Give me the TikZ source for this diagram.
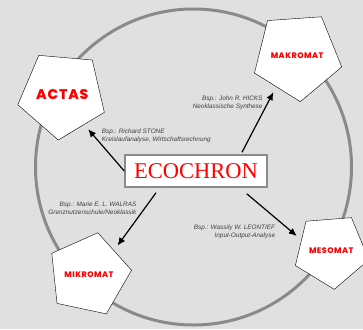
\documentclass[tikz,border=0pt]{standalone}
\usepackage{fontspec}
\setmainfont{Liberation Serif}
\newfontfamily\notefont{Liberation Sans}
\newfontfamily\matfont[LetterSpace=6]{Poppins ExtraBold}
\usepackage{tikz}
\usetikzlibrary{shapes,arrows,arrows.meta}
\definecolor{bggray}{RGB}{224,224,224}
\definecolor{ringgray}{RGB}{138,138,138}
\definecolor{notegray}{RGB}{64,64,64}
\tikzstyle{model} = [regular polygon, regular polygon sides=5, draw, thin, fill=white,
    minimum size=77pt, inner sep=0pt, text=red, font=\matfont\fontsize{8}{9}\selectfont]
\tikzstyle{title} = [rectangle, draw=ringgray, line width=1.5pt, fill=white,
    minimum width=142pt, minimum height=32pt, text=red, font=\fontsize{22.5}{24}\selectfont]
\tikzstyle{note} = [inner sep=0pt, text=notegray, font=\notefont\fontsize{6.4}{8}\selectfont\itshape]
\tikzstyle{line} = [draw, line width=1.2pt, -{Latex[length=8pt,width=7pt]}, shorten >=6pt]

\begin{document}
\begin{tikzpicture}[x=1pt, y=-1pt]
    \useasboundingbox [fill=bggray] (0,0) rectangle (363,329);
    \clip (0,0) rectangle (363,329);
    \draw [ringgray, line width=3pt] (193.5,167) circle (158pt);

    % Place nodes
    \node [title] (eco) at (196,171) {ECOCHRON};
    \node [model, shape border rotate=175, font=\matfont\fontsize{14}{15}\selectfont] (actas) at (62.3,94.5) {ACTAS};
    \node [model, shape border rotate=184] (makro) at (297.1,55.8) {MAKROMAT};
    \node [model, shape border rotate=184.5] (meso) at (331.2,250.7) {MESOMAT};
    \node [model, shape border rotate=-12] (mikro) at (88.9,274.7) {MIKROMAT};

    % Draw edges
    \path [line] (eco.west) -- (actas.-54);
    \path [line] ([xshift=46pt,yshift=2pt]eco.north) -- (makro.-124);
    \path [line] ([xshift=-40pt,yshift=-5pt]eco.south) -- (mikro.44);
    \path [line] ([xshift=-21pt,yshift=-6pt]eco.south east) -- (meso.160);

    % Examples
    \node [note, anchor=west, align=left] (stone) at (101.7,135.7) {Bsp.: Richard STONE\\Kreislaufanalyse, Wirtschaftsrechnung};
    \node [note, anchor=east, align=right] (hicks) at (262.7,103) {Bsp.: John R. HICKS\\Neoklassische Synthese};
    \node [note, anchor=east, align=right] (walras) at (136.5,208) {Bsp.: Marie E. L. WALRAS\\Grenznutzenschule/Neoklassik};
    \node [note, anchor=east, align=right] (leontief) at (275.3,231.7) {Bsp.: Wassily W. LEONTIEF\\Input-Output-Analyse};
\end{tikzpicture}
\end{document}
